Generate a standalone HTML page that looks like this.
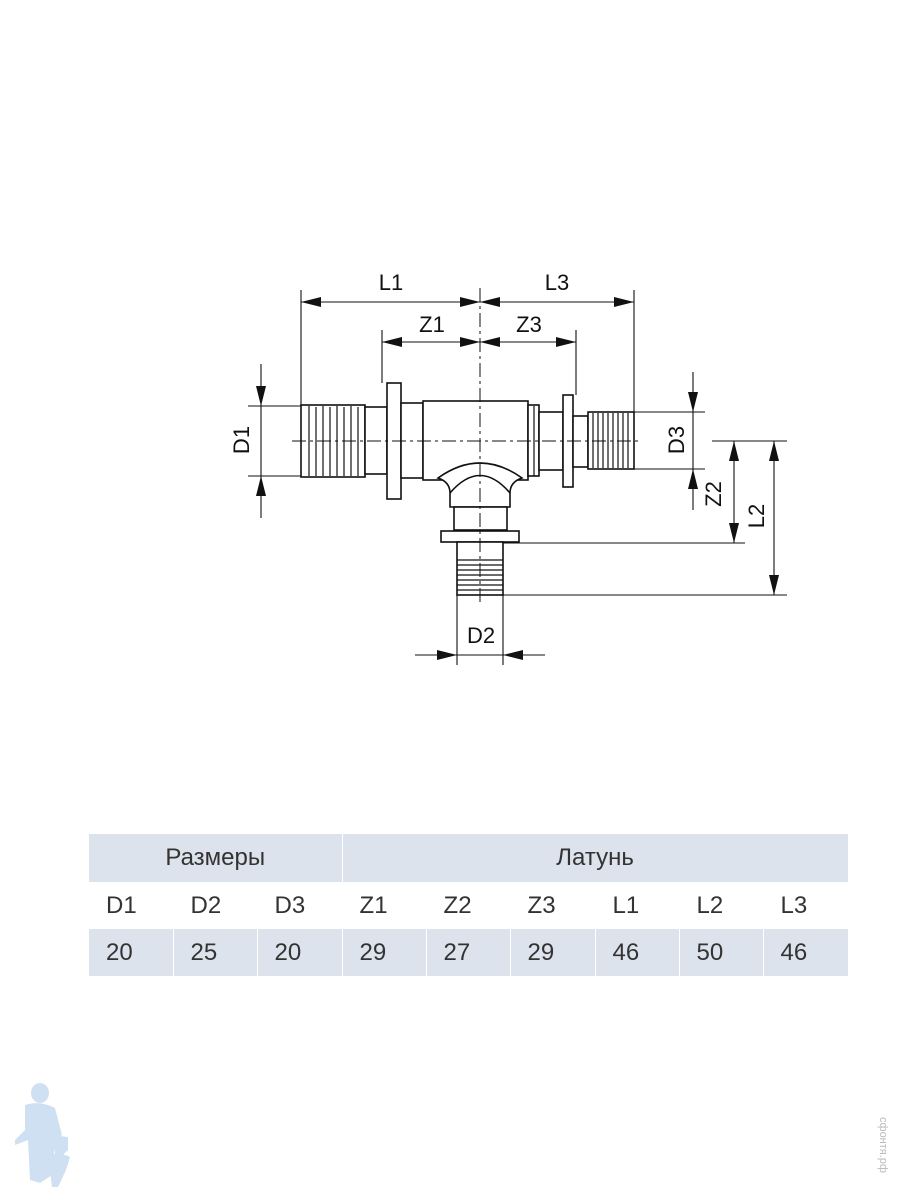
<!DOCTYPE html>
<html><head><meta charset="utf-8"><style>
body{margin:0;background:#fff;width:900px;height:1200px;overflow:hidden;position:relative;font-family:"Liberation Sans",sans-serif}
svg{position:absolute;left:0;top:0}
table{position:absolute;left:89px;top:834px;border-collapse:collapse;width:759px;table-layout:fixed;font-size:24px;color:#333}
td{height:47px;padding:0 0 0 17px;text-align:left;border-right:1px solid #fff;overflow:hidden;white-space:nowrap}
.h td{background:#dde3ec;text-align:center;padding:0;height:48px}
.w td{background:#fff}
.g td{background:#dde3ec}
</style></head><body>
<svg width="900" height="1200" viewBox="0 0 900 1200" fill="none" stroke="#111" stroke-width="1.4">
<defs><marker id="a" markerWidth="20" markerHeight="10" refX="20" refY="5" orient="auto" markerUnits="userSpaceOnUse"><path d="M0,0L20,5L0,10z" fill="#111" stroke="none"/></marker></defs>
<g stroke-width="1.1">
<line x1="301" y1="290" x2="301" y2="405"/>
<line x1="634" y1="290" x2="634" y2="412"/>
<line x1="382" y1="330" x2="382" y2="383"/>
<line x1="576" y1="330" x2="576" y2="395"/>
<line x1="248" y1="406" x2="301" y2="406"/>
<line x1="248" y1="476" x2="301" y2="476"/>
<line x1="634" y1="412" x2="705" y2="412"/>
<line x1="634" y1="469" x2="705" y2="469"/>
<line x1="712" y1="441" x2="787" y2="441"/>
<line x1="503" y1="543" x2="745" y2="543"/>
<line x1="503" y1="595" x2="787" y2="595"/>
<line x1="457" y1="595" x2="457" y2="665"/>
<line x1="503" y1="595" x2="503" y2="665"/>
</g>
<g stroke-width="1.1">
<line x1="480" y1="302" x2="301" y2="302" marker-end="url(#a)"/>
<path d="M460,297L480,302L460,307z" fill="#111" stroke="none"/>
<line x1="480" y1="302" x2="634" y2="302" marker-end="url(#a)"/>
<path d="M500,297L480,302L500,307z" fill="#111" stroke="none"/>
<line x1="480" y1="342" x2="382" y2="342" marker-end="url(#a)"/>
<path d="M460,337L480,342L460,347z" fill="#111" stroke="none"/>
<line x1="480" y1="342" x2="576" y2="342" marker-end="url(#a)"/>
<path d="M500,337L480,342L500,347z" fill="#111" stroke="none"/>
<line x1="261" y1="364" x2="261" y2="406" marker-end="url(#a)"/>
<line x1="261" y1="518" x2="261" y2="476" marker-end="url(#a)"/>
<line x1="261" y1="406" x2="261" y2="476"/>
<line x1="693" y1="372" x2="693" y2="412" marker-end="url(#a)"/>
<line x1="693" y1="510" x2="693" y2="469" marker-end="url(#a)"/>
<line x1="693" y1="412" x2="693" y2="469"/>
<line x1="734" y1="492" x2="734" y2="441" marker-end="url(#a)"/>
<line x1="734" y1="492" x2="734" y2="543" marker-end="url(#a)"/>
<line x1="774" y1="518" x2="774" y2="441" marker-end="url(#a)"/>
<line x1="774" y1="518" x2="774" y2="595" marker-end="url(#a)"/>
<line x1="415" y1="655" x2="457" y2="655" marker-end="url(#a)"/>
<line x1="545" y1="655" x2="503" y2="655" marker-end="url(#a)"/>
<line x1="457" y1="655" x2="503" y2="655"/>
</g>
<g stroke-width="1.6" fill="#fff">
<rect x="301" y="405" width="64" height="72"/>
<rect x="365" y="407" width="22" height="67"/>
<rect x="387" y="383" width="14" height="116"/>
<rect x="401" y="403" width="22" height="75"/>
<rect x="423" y="401" width="105" height="79"/>
<rect x="528" y="405" width="11" height="71"/>
<rect x="539" y="412" width="24" height="58"/>
<rect x="563" y="395" width="10" height="92"/>
<rect x="573" y="416" width="15" height="51"/>
<rect x="588" y="412" width="46" height="57"/>
<path d="M438,478 Q480,448 522,478 Q510,482 510,493 L510,507 L450,507 L450,493 Q450,482 438,478z"/>
<path d="M450,493 Q480,458 510,493" fill="none"/>
<rect x="454" y="507" width="53" height="23"/>
<rect x="441" y="531" width="78" height="11"/>
<rect x="457" y="542" width="46" height="53"/>
</g>
<g stroke-width="1.2">
<path d="M309,406V476M316,407V476M323,406V476M330,407V476M337,406V476M344,407V476M351,406V476M358,407V476M534,406V476M593,413V468M598,413V468M603,413V468M608,413V468M613,413V468M618,413V468M623,413V468M628,413V468"/>
<path d="M457,560H503M457,565H503M457,570H503M457,575H503M457,580H503M457,585H503M457,590H503"/>
</g>
<g stroke-dasharray="14,4,3,4" stroke-width="1">
<line x1="292" y1="441" x2="642" y2="441"/>
<line x1="480" y1="288" x2="480" y2="605"/>
</g>
<g fill="#111" stroke="none" font-family="Liberation Sans, sans-serif" font-size="22" text-anchor="middle">
<text x="391" y="290">L1</text>
<text x="557" y="290">L3</text>
<text x="432" y="332">Z1</text>
<text x="529" y="332">Z3</text>
<text x="481" y="643">D2</text>
<text transform="translate(249,440) rotate(-90)">D1</text>
<text transform="translate(684,440) rotate(-90)">D3</text>
<text transform="translate(721,494) rotate(-90)">Z2</text>
<text transform="translate(764,516) rotate(-90)">L2</text>
</g>
<g fill="#cfe0f2" stroke="none">
<ellipse cx="40" cy="1093" rx="9" ry="10"/>
<path d="M25,1105 Q40,1100 55,1108 L62,1135 L55,1140 L52,1175 L40,1183 L30,1180 L28,1140 L15,1145 L15,1140 L25,1130z"/>
<path d="M52,1135 L68,1137 L68,1150 Q60,1158 56,1160 Z"/>
<path d="M48,1155 Q60,1152 70,1157 L66,1170 L58,1187 L52,1187z"/>
</g>
<text x="0" y="0" transform="translate(880,1145) rotate(90)" text-anchor="middle" font-size="11" fill="#bbb" stroke="none" font-family="Liberation Sans, sans-serif">сфонтя.рф</text>
</svg>
<table>
<colgroup><col style="width:84px"><col style="width:84px"><col style="width:85px"><col style="width:84px"><col style="width:84px"><col style="width:85px"><col style="width:84px"><col style="width:84px"><col style="width:85px"></colgroup>
<tr class="h"><td colspan="3">Размеры</td><td colspan="6">Латунь</td></tr>
<tr class="w"><td>D1</td><td>D2</td><td>D3</td><td>Z1</td><td>Z2</td><td>Z3</td><td>L1</td><td>L2</td><td>L3</td></tr>
<tr class="g"><td>20</td><td>25</td><td>20</td><td>29</td><td>27</td><td>29</td><td>46</td><td>50</td><td>46</td></tr>
</table>
</body></html>
